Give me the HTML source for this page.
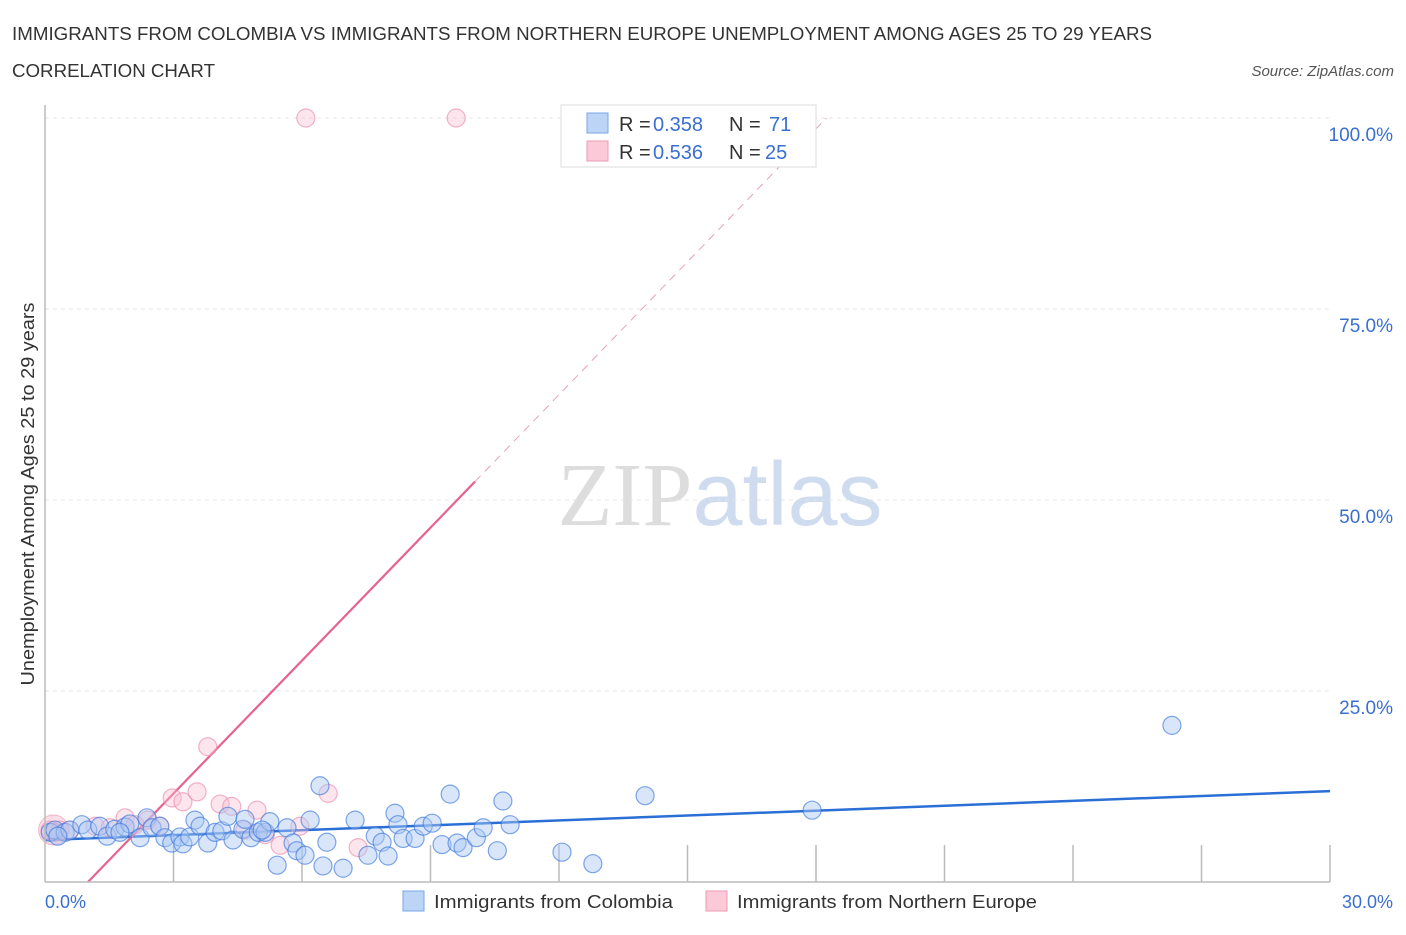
<!DOCTYPE html>
<html><head><meta charset="utf-8"><style>
body{margin:0;background:#fff;font-family:"Liberation Sans",sans-serif;}
svg text{font-family:"Liberation Sans",sans-serif;}
</style></head><body>
<svg id="chart" width="1406" height="930" xmlns="http://www.w3.org/2000/svg">
<text x="12" y="40" font-size="18" fill="#333" textLength="1140" lengthAdjust="spacingAndGlyphs">IMMIGRANTS FROM COLOMBIA VS IMMIGRANTS FROM NORTHERN EUROPE UNEMPLOYMENT AMONG AGES 25 TO 29 YEARS</text>
<text x="12" y="77" font-size="18" fill="#333" textLength="203" lengthAdjust="spacingAndGlyphs">CORRELATION CHART</text>
<text x="1394" y="76" font-size="15" fill="#555" text-anchor="end" font-style="italic">Source: ZipAtlas.com</text>
<text x="720" y="525" font-size="90" text-anchor="middle"><tspan fill="#ddd" font-family="Liberation Serif">ZIP</tspan><tspan fill="#cfdcf0">atlas</tspan></text>
<text transform="translate(34,494) rotate(-90)" font-size="18" fill="#333" text-anchor="middle" textLength="383" lengthAdjust="spacingAndGlyphs">Unemployment Among Ages 25 to 29 years</text>
<g id="grid"></g><g id="ticks"></g><g id="lines"></g><g id="pts"></g>
<line x1="45" y1="105" x2="45" y2="882" stroke="#bbb" stroke-width="1.5"/>
<line x1="45" y1="882" x2="1330" y2="882" stroke="#bbb" stroke-width="1.5"/>
<text x="45" y="908" font-size="18" fill="#3a6fd0">0.0%</text>
<text x="1393" y="908" font-size="18" fill="#3a6fd0" text-anchor="end">30.0%</text>
<g>
<rect x="561" y="105" width="255" height="62" fill="#fff" stroke="#ddd"/>
<rect x="587" y="113" width="21" height="20" fill="#bcd4f6" stroke="#7aa6e6"/>
<rect x="587" y="141" width="21" height="20" fill="#fbc9d8" stroke="#eb9ab3"/>
<text y="131" font-size="20" fill="#333"><tspan x="619">R =</tspan><tspan x="653" fill="#3a6fd0">0.358</tspan><tspan x="729">N =</tspan><tspan x="769" fill="#3a6fd0">71</tspan></text>
<text y="159" font-size="20" fill="#333"><tspan x="619">R =</tspan><tspan x="653" fill="#3a6fd0">0.536</tspan><tspan x="729">N =</tspan><tspan x="765" fill="#3a6fd0">25</tspan></text>
</g>
<g>
<rect x="403" y="891" width="21" height="20" fill="#bcd4f6" stroke="#7aa6e6"/>
<text x="434" y="908" font-size="18" fill="#333" textLength="239" lengthAdjust="spacingAndGlyphs">Immigrants from Colombia</text>
<rect x="706" y="891" width="21" height="20" fill="#fbc9d8" stroke="#eb9ab3"/>
<text x="737" y="908" font-size="18" fill="#333" textLength="300" lengthAdjust="spacingAndGlyphs">Immigrants from Northern Europe</text>
</g>
</svg>
<script>
const yTicks=[25,50,75,100];
const yTickLabels=["25.0%","50.0%","75.0%","100.0%"];
const xTicks=[3,6,9,12,15,18,21,24,27,30];
const colombiaX=[0.12,0.23,0.47,0.58,0.86,1.0,1.28,1.45,1.63,1.87,1.98,2.22,2.38,2.5,2.68,2.8,2.96,3.15,3.22,3.38,3.5,3.62,3.8,3.97,4.13,4.27,4.39,4.62,4.67,4.81,4.98,5.14,5.25,5.42,5.65,5.79,5.88,6.07,6.19,6.42,6.49,6.58,6.96,7.24,7.54,7.71,7.87,8.01,8.17,8.24,8.36,8.64,8.83,9.04,9.27,9.46,9.62,9.76,10.07,10.23,10.56,10.69,10.86,12.07,12.79,14.01,17.91,26.31,0.3,1.75,5.07];
const colombiaY=[6.5,6.8,6.5,6.8,7.5,6.8,7.3,6.0,6.9,7.2,7.6,5.8,8.4,7.1,7.3,5.8,5.1,5.9,5.0,5.9,8.1,7.3,5.1,6.5,6.7,8.6,5.5,6.9,8.2,5.8,6.5,6.5,7.9,2.2,7.1,5.1,4.1,3.5,8.1,12.6,2.1,5.2,1.8,8.1,3.5,6.0,5.2,3.4,9.0,7.5,5.7,5.7,7.3,7.7,4.9,11.5,5.1,4.5,5.8,7.1,4.1,10.6,7.5,3.9,2.4,11.3,9.4,20.5,6.0,6.5,6.8];
const europeX=[6.09,9.6,3.8,2.97,3.22,3.55,4.09,4.36,4.95,6.61,7.31,5.49,5.95,4.67,1.87,2.4,2.68,1.17,0.35,0.23,0.12,0.58,1.52,2.1,5.14];
const europeY=[100,100,17.7,11.0,10.5,11.8,10.2,9.9,9.4,11.6,4.5,4.8,7.3,6.8,8.4,8.1,7.3,7.3,6.8,6.5,6.8,6.8,7.1,7.5,6.2];
const colombiaTrend=[5.5,11.9];
const europeTrendA=-5.82, europeTrendB=5.8;
const NS='http://www.w3.org/2000/svg';
const X=v=>45+v/30*1285, Y=v=>882-v/100*764;
function mk(t,a,p){const e=document.createElementNS(NS,t);for(const k in a)e.setAttribute(k,a[k]);document.getElementById(p).appendChild(e);return e;}
yTicks.forEach((t,i)=>{
 const l=mk('line',{x1:45,x2:1330,y1:Y(t),y2:Y(t),stroke:'#e4e4e4','stroke-dasharray':'4,4'},'grid');
 
 
 const tx=mk('text',{x:1393,y:Y(t)+23,'font-size':19,fill:'#3a6fd0','text-anchor':'end'},'grid');
 tx.textContent=yTickLabels[i];
 
 
});
xTicks.forEach(t=>{
 const l=mk('line',{x1:X(t),x2:X(t),y1:845,y2:882,stroke:'#bbb','stroke-width':1.5},'ticks');
 
 
});
function pts(xs,ys,fill,stroke,name){xs.forEach((x,i)=>{
 const c=mk('circle',{cx:X(x),cy:Y(ys[i]),r:9,fill:fill,stroke:stroke,'stroke-width':1.2},'pts');
 
 
});}
const big=mk('circle',{cx:X(0.2),cy:Y(6.8),r:15,fill:'rgba(245,160,190,0.35)',stroke:'rgba(235,140,170,0.6)'},'pts');


pts(europeX,europeY,'rgba(249,190,210,0.4)','rgba(235,140,170,0.65)','europe-point');
pts(colombiaX,colombiaY,'rgba(170,200,245,0.45)','rgba(60,120,220,0.65)','colombia-point');
const bl=mk('line',{x1:X(0),y1:Y(colombiaTrend[0]),x2:X(30),y2:Y(colombiaTrend[1]),stroke:'#2a6fd6','stroke-width':2.5},'lines');


const x0=-europeTrendA/europeTrendB, x1=10.04, x2=(100-europeTrendA)/europeTrendB;
const pl=mk('line',{x1:X(x0),y1:Y(0),x2:X(x1),y2:Y(europeTrendA+europeTrendB*x1),stroke:'#e8628e','stroke-width':2.2},'lines');


const pd=mk('line',{x1:X(x1),y1:Y(europeTrendA+europeTrendB*x1),x2:X(x2),y2:Y(100),stroke:'#e8a0b8','stroke-width':1,'stroke-dasharray':'8,6'},'lines');


</script>
</body></html>
